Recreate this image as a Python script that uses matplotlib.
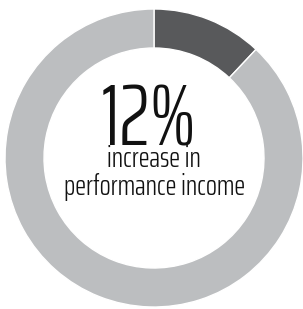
import matplotlib
matplotlib.use("Agg")
import matplotlib.pyplot as plt

# Data
labels = ["Increase", "Remainder"]
values = [12, 88]
colors = ["#58595B", "#BCBEC0"]
big_text = "12%"
caption = ["increase in", "performance income"]

W, H = 303, 309
fig = plt.figure(figsize=(W / 100, H / 100), dpi=100)
ax = fig.add_axes([0, 0, 1, 1])
ax.axis("off")

ax.pie(values, colors=colors, startangle=90, counterclock=False,
       center=(154, H - 158), radius=149,
       wedgeprops=dict(width=39, edgecolor="white", linewidth=1))
ax.set_xlim(0, W)
ax.set_ylim(0, H)
ax.set_aspect("auto")

font = "Saira ExtraCondensed"
ax.text(148.5, H - 145, big_text, ha="center", va="baseline", fontsize=62,
        family=font, weight=300, color="#111111")
ax.text(154, H - 167, caption[0], ha="center", va="baseline", fontsize=21,
        family=font, weight=300, color="#111111")
ax.text(154.5, H - 195, caption[1], ha="center", va="baseline", fontsize=21,
        family=font, weight=300, color="#111111")

fig.savefig("out.png", dpi=100)
